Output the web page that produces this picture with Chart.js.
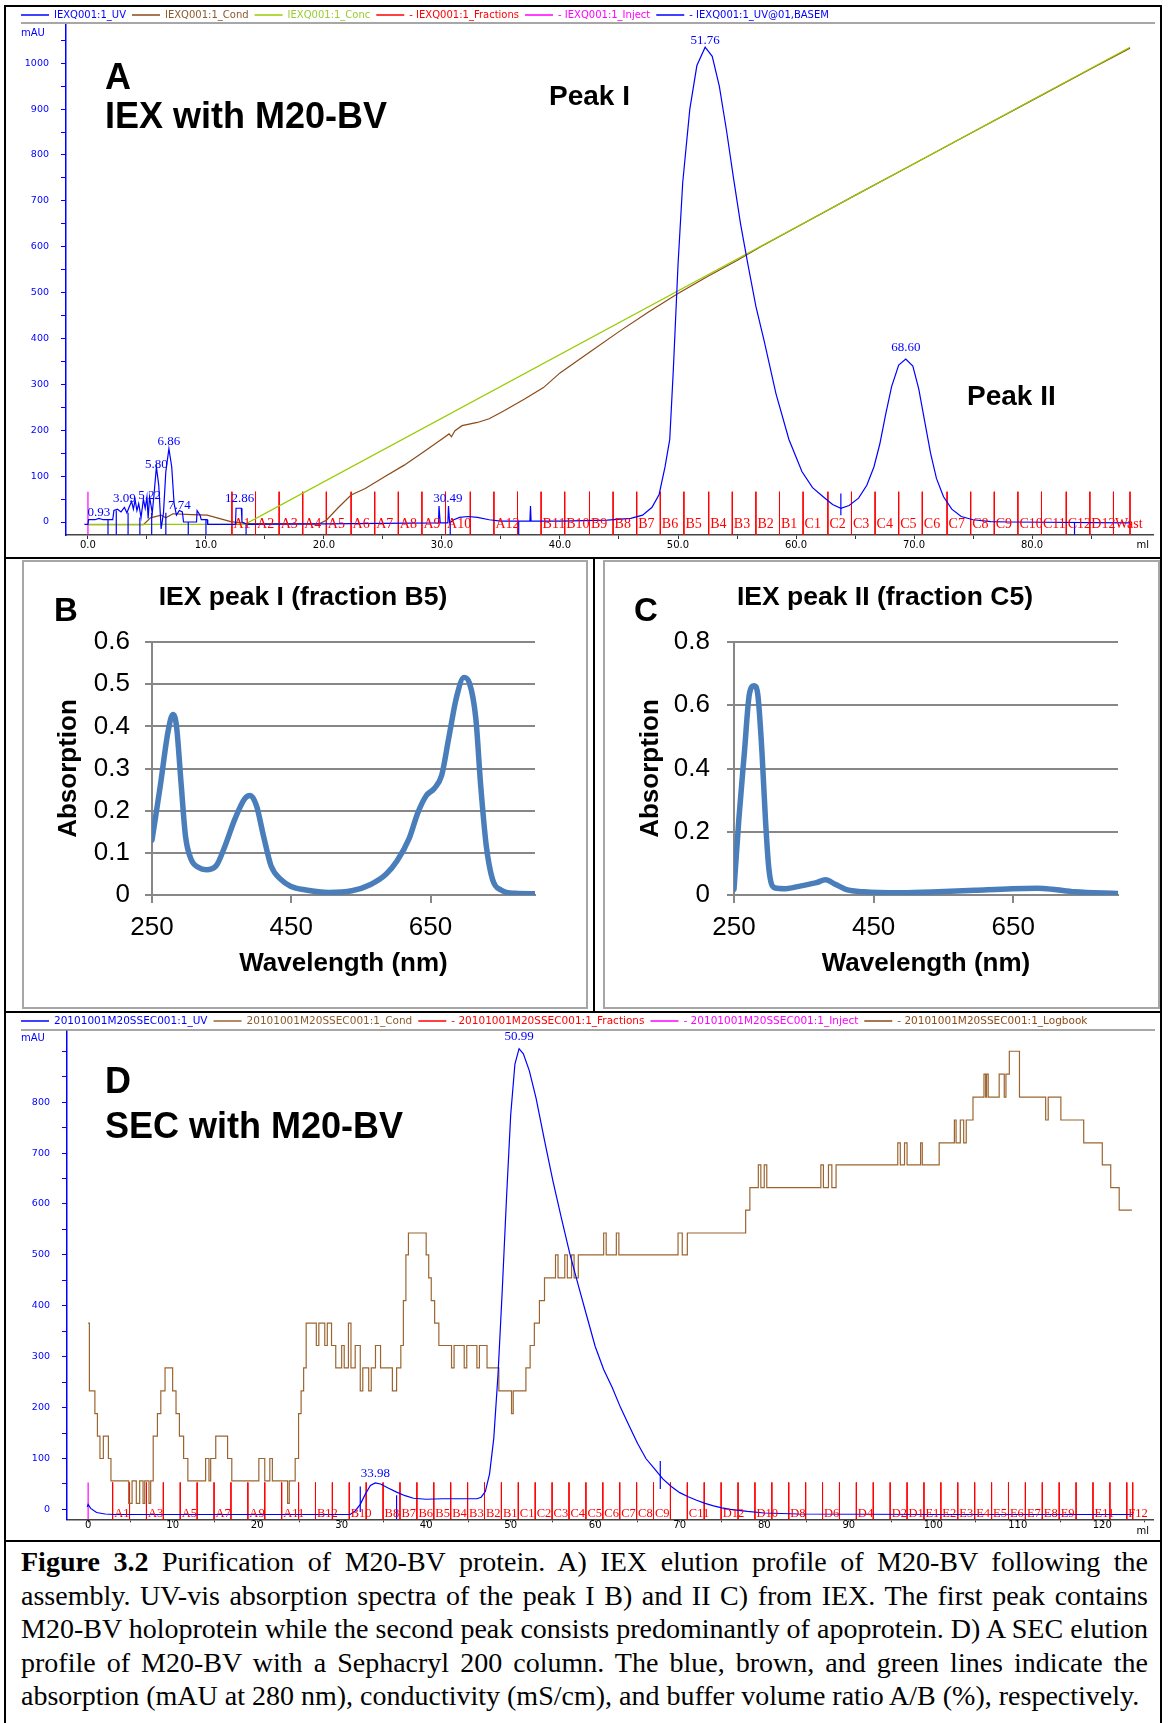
<!DOCTYPE html>
<html>
<head>
<meta charset="utf-8">
<script src="https://cdn.jsdelivr.net/npm/chart.js@4.4.1/dist/chart.umd.min.js"></script>
<style>
  html, body { margin: 0; padding: 0; background: #fff; }
  body { width: 1169px; height: 1723px; position: relative; overflow: hidden; }
  .box { position: absolute; box-sizing: border-box; border: 2px solid #000; }
  .xl { position: absolute; box-sizing: border-box; border: 2px solid #a6a6a6; }
  canvas { position: absolute; }
  #caption { position: absolute; left: 21px; top: 1545px; width: 1127px;
    font-family: "Liberation Serif", "Times New Roman", serif; font-size: 28px; line-height: 33.5px; color: #000; }
  #caption div { white-space: nowrap; }
</style>
</head>
<body>
<div class="box" style="left:4px;top:5px;width:1158px;height:554px"></div>
<div class="box" style="left:4px;top:557px;width:1158px;height:456px"></div>
<div class="box" style="left:593px;top:557px;width:2px;height:456px;border-width:0 0 0 2px"></div>
<div class="box" style="left:4px;top:1011px;width:1158px;height:531px"></div>
<div class="box" style="left:4px;top:1540px;width:1158px;height:200px"></div>
<div class="xl" style="left:22px;top:560px;width:566px;height:449px"></div>
<div class="xl" style="left:603px;top:560px;width:557px;height:449px"></div>

<canvas id="chartA" width="1153" height="549" style="left:6px;top:7px"></canvas>
<canvas id="chartB" width="566" height="449" style="left:22px;top:560px"></canvas>
<canvas id="chartC" width="557" height="449" style="left:603px;top:560px"></canvas>
<canvas id="chartD" width="1153" height="524" style="left:6px;top:1013px"></canvas>

<div id="caption">
  <div><span><b>Figure 3.2</b> Purification of M20-BV protein. A) IEX elution profile of M20-BV following the</span></div>
  <div><span>assembly. UV-vis absorption spectra of the peak I B) and II C) from IEX. The first peak contains</span></div>
  <div><span>M20-BV holoprotein while the second peak consists predominantly of apoprotein. D) A SEC elution</span></div>
  <div><span>profile of M20-BV with a Sephacryl 200 column. The blue, brown, and green lines indicate the</span></div>
  <div class="last"><span>absorption (mAU at 280 nm), conductivity (mS/cm), and buffer volume ratio A/B (%), respectively.</span></div>
</div>

<script>
// ---------- A: IEX run (ml, mAU) ----------
const iexUv = [
  [-0.3,-5],[0.0,-5],[0.05,5],[0.6,5],[0.93,8],[1.3,5],[2.1,5],[2.2,25],[2.5,28],[2.8,22],[3.09,32],[3.3,20],
  [3.45,30],[3.7,45],[3.85,28],[4.0,48],[4.15,25],[4.3,40],[4.5,10],[4.7,50],[4.85,30],[5.0,55],[5.1,8],[5.22,55],
  [5.45,20],[5.6,60],[5.8,120],[6.0,80],[6.2,-15],[6.4,20],[6.6,110],[6.86,160],[7.1,120],[7.3,40],[7.5,15],
  [7.74,25],[8.0,22],[8.1,0],[9.2,0],[9.25,25],[9.5,15],[9.6,5],[10.1,5],[10.15,-5],[12.5,-5],[12.55,30],
  [12.86,30],[13.0,30],[13.05,0],[13.5,-5],[20,-4],[29.7,-2],[29.75,35],[29.85,-2],[30.5,-2],[30.55,35],
  [30.65,-2],[31,5],[31.5,10],[32.2,12],[33,10],[34,5],[35,2],[37.45,2],[37.5,35],[37.55,2],[40,2],[44,4],
  [46,8],[47,15],[47.8,32],[48.4,60],[48.9,120],[49.3,180],[49.6,330],[50.0,560],[50.4,740],[51.0,900],
  [51.6,995],[52.3,1035],[52.9,1015],[53.5,950],[54.1,855],[54.7,750],[55.3,650],[55.9,565],[56.6,470],
  [57.3,395],[58.3,280],[59.4,180],[60.5,110],[61.4,75],[62.3,55],[63.1,38],[63.8,30],[64.5,36],[65.3,52],
  [66.0,80],[66.6,120],[67.1,170],[67.6,235],[68.1,295],[68.7,342],[69.3,355],[69.9,340],[70.4,290],
  [70.9,220],[71.4,150],[71.9,95],[72.5,55],[73.2,28],[74.0,12],[75.0,5],[76.5,1],[78,0],[88.3,-2]
];
const iexCond = [
  [0,-6],[4.7,-6],[5.3,9],[6.2,15],[6.6,9],[7.2,18],[8.8,16],[10.1,15],[12.1,1],[13.3,-3],[19.6,-4],[20.2,4],
  [21.2,31],[22.3,59],[23.5,73],[25.1,98],[26.8,124],[28.4,152],[30.0,181],[30.6,192],[30.8,186],[31.1,199],
  [31.7,210],[33.0,217],[34.0,225],[35.3,243],[37.0,268],[38.6,293],[40,325],[42.5,370],[45,415],[47.5,458],
  [50,498],[52.5,535],[55,570],[57,600],[60,642],[65,712],[70,781],[75,850],[80,919],[85,988],[88.3,1033]
];
const iexConc = [[0,-5],[13.3,-5],[88.3,1035]];
// baseline / peak-limit markers: [ml, from, to]
const iexBaseMarks = [
  [1.7,5,-28],[2.4,25,-28],[3.4,20,-28],[4.4,10,-28],[5.4,20,-28],[6.6,20,-28],[8.5,0,-28],[10.0,5,-28],
  [13.4,-5,-28],[30.7,-2,-28],[36.5,2,-28],[63.8,62,15],[83.6,0,-28]
];
const iexFracPos = [12.2,14.2,16.2,18.2,20.2,22.3,24.3,26.3,28.3,30.3,32.4,34.4,36.4,38.4,40.4,42.5,44.5,46.5,
  48.5,50.5,52.6,54.6,56.6,58.6,60.6,62.7,64.7,66.7,68.7,70.7,72.8,74.8,76.8,78.8,80.8,82.9,84.9,86.9,88.3];
const iexFracLabels = ['A1','A2','A3','A4','A5','A6','A7','A8','A9','A10','','A12','','B11','B10','B9','B8',
  'B7','B6','B5','B4','B3','B2','B1','C1','C2','C3','C4','C5','C6','C7','C8','C9','C10','C11','C12','D12','Wast'];
const iexInject = [0];
// peak table: [retention, label x (ml), label y (mAU)]
const iexPeaks = [[0.93,0.93,20],[3.09,3.09,50],[5.22,5.22,57],[5.80,5.80,125],[6.86,6.86,176],[7.74,7.74,36],
  [12.86,12.86,52],[30.49,30.49,52],[51.76,52.3,1050],[68.60,69.3,380]];
const iexXTicks = [0,5,10,15,20,25,30,35,40,45,50,55,60,65,70,75,80,85];
const iexXLabels = [0,10,20,30,40,50,60,70,80];
const iexYTicks = [0,50,100,150,200,250,300,350,400,450,500,550,600,650,700,750,800,850,900,950,1000,1050];
const iexYLabels = [0,100,200,300,400,500,600,700,800,900,1000];

// ---------- B / C: absorption spectra (nm, A) ----------
const peak1Spec = [
  [250,0.13],[262,0.26],[273,0.387],[280,0.428],[285,0.403],[292,0.26],[298,0.141],[306,0.085],[317,0.065],
  [328,0.06],[342,0.069],[355,0.117],[369,0.18],[383,0.228],[391,0.236],[400,0.212],[410,0.141],[421,0.069],
  [435,0.037],[449,0.021],[471,0.012],[504,0.006],[537,0.01],[564,0.025],[586,0.049],[602,0.081],[619,0.133],
  [632,0.196],[644,0.236],[655,0.252],[666,0.284],[676,0.371],[687,0.467],[698,0.516],[706,0.502],[715,0.419],
  [722,0.26],[730,0.117],[739,0.037],[751,0.012],[772,0.004],[800,0.003]
];
const peak2Spec = [
  [250,0.018],[257,0.241],[265,0.454],[272,0.635],[279,0.662],[284,0.635],[290,0.454],[295,0.241],[300,0.082],
  [308,0.023],[324,0.02],[346,0.029],[368,0.039],[381,0.048],[395,0.034],[410,0.018],[436,0.01],[489,0.007],
  [542,0.01],[595,0.015],[648,0.02],[685,0.021],[706,0.018],[738,0.01],[800,0.005]
];
const specXTicks = [250,450,650];
const peak1YTicks = [0,0.1,0.2,0.3,0.4,0.5,0.6];
const peak2YTicks = [0,0.2,0.4,0.6,0.8];

// ---------- D: SEC run (ml, mAU) ----------
const secUv = [
  [-0.1,5],[0.0,10],[0.3,2],[1.0,-6],[2.0,-9],[3,-10],[31,-10],[31.6,-3],[32.2,10],[32.8,30],[33.4,47],
  [33.98,52],[34.6,50],[35.5,42],[36.5,34],[37.5,27],[38.5,22],[40,20],[42,21],[44,21],[46,21],[46.5,24],
  [47,35],[47.5,70],[48,140],[48.5,265],[49,430],[49.5,610],[50,775],[50.5,875],[50.99,905],[51.5,895],
  [52.2,862],[53,808],[54,725],[55,645],[56,572],[57,502],[58,440],[59,380],[60,320],[61,275],[62,240],
  [63,200],[64,165],[65,130],[66,100],[67,80],[68,60],[69,45],[70,33],[71,25],[72,18],[73,12],[74,7],
  [75,3],[76,0],[78,-4],[80,-7],[84,-9],[100,-10],[123.6,-10]
];
// conductivity staircase: each level holds from its ml until the next entry
const secCond = [
  [0.0,366],[0.15,233],[0.8,188],[1.1,144],[1.4,100],[1.8,144],[2.4,100],[2.7,56],[4.8,12],[5.2,56],[5.7,12],
  [6.1,56],[6.5,12],[6.7,56],[7.2,12],[7.4,56],[7.7,144],[8.2,188],[8.6,233],[9.1,278],[10.0,233],[10.4,188],
  [10.8,144],[11.3,100],[11.8,56],[13.9,100],[14.3,56],[14.5,100],[15.1,144],[16.5,100],[17.0,56],[20.2,100],
  [20.9,56],[21.5,100],[21.8,56],[23.6,12],[23.8,56],[24.5,100],[24.9,188],[25.2,233],[25.5,278],[25.8,366],
  [27.0,322],[27.3,366],[28.0,322],[28.3,366],[28.8,322],[29.3,278],[30.0,322],[30.3,278],[30.8,366],
  [31.1,278],[31.6,322],[32.2,233],[32.5,278],[33.2,233],[33.5,278],[34.0,322],[34.6,278],[36.0,233],
  [36.5,278],[37.0,322],[37.3,410],[37.6,500],[37.9,543],[40.0,500],[40.3,455],[40.6,410],[41.0,366],
  [41.5,322],[43.0,278],[43.3,322],[44.5,278],[44.8,322],[46.0,278],[46.3,322],[47.2,278],[48.6,233],
  [50.1,188],[50.3,233],[51.8,278],[52.3,322],[52.8,366],[53.4,410],[54.0,455],[55.3,500],[55.6,455],
  [56.4,500],[56.7,455],[57.2,500],[57.5,455],[58.0,500],[61.0,543],[61.3,500],[62.5,543],[62.8,500],
  [69.8,543],[70.3,500],[70.9,543],[77.8,588],[78.3,632],[79.3,677],[79.6,632],[80.0,677],[80.3,632],
  [86.7,677],[87.0,632],[87.6,677],[88.0,632],[88.5,677],[95.8,720],[96.1,677],[96.6,720],[96.9,677],
  [98.5,720],[98.7,677],[100.7,720],[102.5,765],[102.7,720],[103.2,765],[103.6,720],[103.9,765],[104.7,810],
  [106.0,855],[106.2,810],[106.3,855],[106.5,810],[107.8,855],[108.4,810],[108.6,855],[109.0,900],[110.2,810],
  [113.3,765],[113.6,810],[115.1,765],[117.8,720],[120.0,677],[121.0,632],[122.0,588],[123.5,588]
];
const secMarks = [[32.2,45,-5],[36.5,28,-19],[67.7,95,40]];
const secFracPos = [2.9,4.9,6.9,8.9,10.9,12.9,14.9,16.9,18.9,20.9,22.9,24.9,26.9,28.9,30.9,32.9,34.9,36.9,
  38.9,40.9,42.9,44.9,46.9,48.9,50.9,52.9,54.9,56.9,58.9,60.9,62.9,64.9,66.9,68.9,70.9,72.9,74.9,76.9,78.9,
  80.9,82.9,84.9,86.9,88.9,90.9,92.9,94.9,96.9,98.9,100.9,102.9,104.9,106.9,108.9,110.9,112.9,114.9,116.9,
  118.9,120.9,122.9,123.6];
const secFracLabels = ['A1','','A3','','A5','','A7','','A9','','A11','','B12','','B10','','B8','B7','B6','B5',
  'B4','B3','B2','B1','C1','C2','C3','C4','C5','C6','C7','C8','C9','','C11','','D12','','D10','','D8','','D6','',
  'D4','','D2','D1','E1','E2','E3','E4','E5','E6','E7','E8','E9','','E11','','F12'];
const secInject = [0];
const secPeaks = [[33.98,33.98,70],[50.99,50.99,928]];
const secXTicks = [0,5,10,15,20,25,30,35,40,45,50,55,60,65,70,75,80,85,90,95,100,105,110,115,120,125];
const secXLabels = [0,10,20,30,40,50,60,70,80,90,100,110,120];
const secYTicks = [0,50,100,150,200,250,300,350,400,450,500,550,600,650,700,750,800,850,900];
const secYLabels = [0,100,200,300,400,500,600,700,800];

// ---------- helpers ----------
const pts = arr => arr.map(p => ({x: p[0], y: p[1]}));
function vlines(xs, top, bottom) {
  const out = [];
  xs.forEach(x => out.push({x, y: top}, {x, y: bottom}, {x, y: null}));
  return out;
}
function marks(list) {
  const out = [];
  list.forEach(m => out.push({x: m[0], y: m[1]}, {x: m[0], y: m[2]}, {x: m[0], y: null}));
  return out;
}

const BLUE = '#0000ff', RED = '#ff0000', MAG = '#ff00ff';
const MONO = 'DejaVu Sans';

// legend row at top of the Unicorn traces
const unicornLegend = {
  id: 'unicornLegend',
  afterDraw(chart, args, o) {
    const ctx = chart.ctx;
    let x = o.x;
    ctx.save();
    ctx.font = o.size + 'px ' + MONO;
    ctx.textBaseline = 'middle';
    chart.data.datasets.forEach(ds => {
      if (ds.legend === false) return;
      ctx.strokeStyle = ds.borderColor;
      ctx.lineWidth = 1.5;
      ctx.beginPath(); ctx.moveTo(x, o.y); ctx.lineTo(x + 28, o.y); ctx.stroke();
      ctx.fillStyle = ds.textColor || ds.borderColor;
      ctx.fillText(ds.label, x + 33, o.y + 0.5);
      x += 33 + ctx.measureText(ds.label).width + 6;
    });
    ctx.strokeStyle = '#8a8a8a';
    ctx.lineWidth = 1.5;
    ctx.beginPath(); ctx.moveTo(o.x, o.ruleY); ctx.lineTo(chart.chartArea.right + 2, o.ruleY); ctx.stroke();
    ctx.restore();
  }
};

// fraction names written along the baseline
const fracText = {
  id: 'fracText',
  afterDatasetsDraw(chart, args, o) {
    const ctx = chart.ctx, sx = chart.scales.x, sy = chart.scales.y;
    ctx.save();
    ctx.font = o.size + 'px "Liberation Serif"';
    ctx.fillStyle = RED;
    ctx.textBaseline = 'middle';
    o.labels.forEach((t, i) => {
      if (t) ctx.fillText(t, sx.getPixelForValue(o.pos[i]) + 1.5, sy.getPixelForValue(o.y));
    });
    ctx.restore();
  }
};

// peak retention labels and free text
const notes = {
  id: 'notes',
  afterDraw(chart, args, o) {
    const ctx = chart.ctx, sx = chart.scales.x, sy = chart.scales.y;
    ctx.save();
    (o.peaks || []).forEach(p => {
      ctx.font = o.peakFont;
      ctx.fillStyle = BLUE;
      ctx.textAlign = 'center';
      ctx.textBaseline = 'middle';
      ctx.fillText(p[0].toFixed(2), sx.getPixelForValue(p[1]), sy.getPixelForValue(p[2]));
    });
    (o.items || []).forEach(n => {
      ctx.font = n.font;
      ctx.fillStyle = n.color || '#000';
      ctx.textAlign = n.align || 'left';
      ctx.textBaseline = 'middle';
      ctx.fillText(n.text, n.x, n.y);
    });
    ctx.restore();
  }
};

Chart.defaults.font.family = 'Liberation Sans';
Chart.defaults.animation = false;

function unicornScales(cfg) {
  return {
    x: {
      type: 'linear', min: cfg.xMin, max: cfg.xMax,
      afterBuildTicks: s => { s.ticks = cfg.xTicks.map(v => ({value: v})); },
      afterFit: s => { s.height = cfg.xH; },
      ticks: { autoSkip: false, maxRotation: 0, padding: cfg.xPad, color: '#000', font: {family: MONO, size: 10},
        callback: v => cfg.xLabels.includes(v) ? cfg.fmt(v) : '' },
      grid: { drawOnChartArea: false, tickLength: cfg.xTl, color: '#333' },
      border: { color: '#444', width: 1.5 }
    },
    y: {
      type: 'linear', min: cfg.yMin, max: cfg.yMax,
      afterBuildTicks: s => { s.ticks = cfg.yTicks.map(v => ({value: v})); },
      afterFit: s => { s.width = cfg.yW; },
      ticks: { color: BLUE, padding: 12, font: {family: MONO, size: 9.5},
        callback: v => cfg.yLabels.includes(v) ? String(v) : '' },
      grid: { drawOnChartArea: false, tickLength: 5, color: BLUE },
      border: { color: BLUE, width: 1.5 }
    }
  };
}

// ---------- chart A ----------
new Chart(document.getElementById('chartA'), {
  type: 'line',
  data: { datasets: [
    { label: 'IEXQ001:1_UV', data: pts(iexUv), borderColor: BLUE, borderWidth: 1.2, order: 0 },
    { label: 'IEXQ001:1_Cond', data: pts(iexCond), borderColor: '#8b4a18', borderWidth: 1.2, textColor: '#8b5a2b', order: 2 },
    { label: 'IEXQ001:1_Conc', data: pts(iexConc), borderColor: '#99cc00', borderWidth: 1.2, textColor: '#99cc33', order: 1 },
    { label: '- IEXQ001:1_Fractions', data: vlines(iexFracPos, 66, -28), borderColor: RED, borderWidth: 1, order: 3 },
    { label: '- IEXQ001:1_Inject', data: vlines(iexInject, 66, -28), borderColor: MAG, borderWidth: 1.2, order: 3 },
    { label: '- IEXQ001:1_UV@01,BASEM', data: marks(iexBaseMarks), borderColor: BLUE, borderWidth: 1.2, order: 0 }
  ]},
  options: {
    responsive: false, devicePixelRatio: 1,
    layout: { padding: {top: 17, left: 0, right: 6, bottom: 0}, autoPadding: false },
    elements: { point: {radius: 0}, line: {tension: 0} },
    scales: unicornScales({ xMin: -1.86, xMax: 90.25, xTicks: iexXTicks, xLabels: iexXLabels, xH: 21, xTl: 4, xPad: 0,
      fmt: v => v.toFixed(1), yMin: -28.3, yMax: 1084, yTicks: iexYTicks, yLabels: iexYLabels, yW: 60 }),
    plugins: {
      legend: {display: false}, tooltip: {enabled: false},
      unicornLegend: { x: 15, y: 8, ruleY: 16, size: 10 },
      fracText: { pos: iexFracPos, labels: iexFracLabels, y: -6, size: 14 },
      notes: {
        peaks: iexPeaks, peakFont: '13px "Liberation Serif"',
        items: [
          {text: 'mAU', x: 15, y: 26, font: '10px ' + MONO, color: BLUE},
          {text: 'ml', x: 1143, y: 538, font: '10px ' + MONO, align: 'right'},
          {text: 'A', x: 99, y: 72, font: 'bold 36px "Liberation Sans"'},
          {text: 'IEX with M20-BV', x: 99, y: 111, font: 'bold 36px "Liberation Sans"'},
          {text: 'Peak I', x: 543, y: 90, font: 'bold 28px "Liberation Sans"'},
          {text: 'Peak II', x: 961, y: 390, font: 'bold 28px "Liberation Sans"'}
        ]
      }
    }
  },
  plugins: [unicornLegend, fracText, notes]
});

// ---------- charts B and C ----------
function spectrum(id, data, yMax, yTicks, g) {
  const grey = '#878787';
  new Chart(document.getElementById(id), {
    type: 'line',
    data: { datasets: [{ data: pts(data), borderColor: '#4a7ebb', borderWidth: 5.5,
      cubicInterpolationMode: 'monotone', borderCapStyle: 'round', borderJoinStyle: 'round' }] },
    options: {
      responsive: false, devicePixelRatio: 1,
      layout: { padding: {top: 82, left: 0, right: g.padR, bottom: 0}, autoPadding: false },
      elements: { point: {radius: 0} },
      scales: {
        x: {
          type: 'linear', min: 250, max: 800,
          afterBuildTicks: s => { s.ticks = specXTicks.map(v => ({value: v})); },
          afterFit: s => { s.height = 114; },
          ticks: { autoSkip: false, maxRotation: 0, padding: 9, color: '#000', font: {size: 26} },
          grid: { drawOnChartArea: false, tickLength: 8, color: grey, lineWidth: 2 },
          border: { color: grey, width: 2 },
          title: { display: true, text: 'Wavelength (nm)', color: '#000', font: {size: 26, weight: 'bold'},
            padding: {top: 0, bottom: 30} }
        },
        y: {
          type: 'linear', min: 0, max: yMax,
          afterBuildTicks: s => { s.ticks = yTicks.map(v => ({value: v})); },
          afterFit: s => { s.width = g.yW; },
          ticks: { padding: g.tickPad, color: '#000', font: {size: 26},
            callback: v => v === 0 ? '0' : String(+v.toFixed(1)) },
          grid: { color: grey, lineWidth: 2, tickLength: 7 },
          border: { color: grey, width: 2 },
          title: { display: true, text: 'Absorption', color: '#000', font: {size: 26, weight: 'bold'},
            padding: {top: g.titlePad, bottom: 0} }
        }
      },
      plugins: {
        legend: {display: false}, tooltip: {enabled: false},
        notes: { items: [
          {text: g.title, x: g.titleX, y: 38, font: 'bold 26.5px "Liberation Sans"', align: 'center'},
          {text: g.letter, x: g.letterX, y: 52, font: 'bold 33px "Liberation Sans"', align: 'center'}
        ]}
      }
    },
    plugins: [notes]
  });
}
spectrum('chartB', peak1Spec, 0.6, peak1YTicks,
  { padR: 53, yW: 130, tickPad: 15, titlePad: 31, title: 'IEX peak I (fraction B5)', titleX: 281, letter: 'B', letterX: 44 });
spectrum('chartC', peak2Spec, 0.8, peak2YTicks,
  { padR: 42, yW: 131, tickPad: 17, titlePad: 32, title: 'IEX peak II (fraction C5)', titleX: 282, letter: 'C', letterX: 43 });

// ---------- chart D ----------
new Chart(document.getElementById('chartD'), {
  type: 'line',
  data: { datasets: [
    { label: '20101001M20SSEC001:1_UV', data: pts(secUv), borderColor: BLUE, borderWidth: 1.2 },
    { label: '20101001M20SSEC001:1_Cond', data: pts(secCond), borderColor: '#9c6530', borderWidth: 1.2,
      stepped: 'before', textColor: '#8b5a2b' },
    { label: '- 20101001M20SSEC001:1_Fractions', data: vlines(secFracPos, 53, -19.4), borderColor: RED, borderWidth: 1 },
    { label: '- 20101001M20SSEC001:1_Inject', data: vlines(secInject, 53, -19.4), borderColor: MAG, borderWidth: 1.2 },
    { label: '- 20101001M20SSEC001:1_Logbook', data: [], borderColor: '#8b4a18', borderWidth: 1.2 },
    { label: 'marks', data: marks(secMarks), borderColor: BLUE, borderWidth: 1.2, legend: false }
  ]},
  options: {
    responsive: false, devicePixelRatio: 1,
    layout: { padding: {top: 18, left: 0, right: 6, bottom: 0}, autoPadding: false },
    elements: { point: {radius: 0}, line: {tension: 0} },
    scales: unicornScales({ xMin: -2.5, xMax: 126, xTicks: secXTicks, xLabels: secXLabels, xH: 12, xTl: 3, xPad: -3,
      fmt: v => String(v), yMin: -19.4, yMax: 939.8, yTicks: secYTicks, yLabels: secYLabels, yW: 61 }),
    plugins: {
      legend: {display: false}, tooltip: {enabled: false},
      unicornLegend: { x: 15, y: 8, ruleY: 17, size: 10.5 },
      fracText: { pos: secFracPos, labels: secFracLabels, y: -9, size: 12.5 },
      notes: {
        peaks: secPeaks, peakFont: '13px "Liberation Serif"',
        items: [
          {text: 'mAU', x: 15, y: 25, font: '10px ' + MONO, color: BLUE},
          {text: 'ml', x: 1143, y: 518, font: '10px ' + MONO, align: 'right'},
          {text: 'D', x: 99, y: 70, font: 'bold 36px "Liberation Sans"'},
          {text: 'SEC with M20-BV', x: 99, y: 115, font: 'bold 36px "Liberation Sans"'}
        ]
      }
    }
  },
  plugins: [unicornLegend, fracText, notes]
});

// caption: spread each line to the full width (last line left as is unless too long)
(function justifyCaption() {
  const W = 1127;
  document.querySelectorAll('#caption div').forEach(div => {
    const span = div.firstElementChild;
    const w = span.getBoundingClientRect().width;
    const spaces = (span.textContent.match(/ /g) || []).length;
    const last = div.classList.contains('last');
    if (!spaces) return;
    if (!last || w > W) span.style.wordSpacing = ((W - w) / spaces) + 'px';
  });
})();
</script>
</body>
</html>
